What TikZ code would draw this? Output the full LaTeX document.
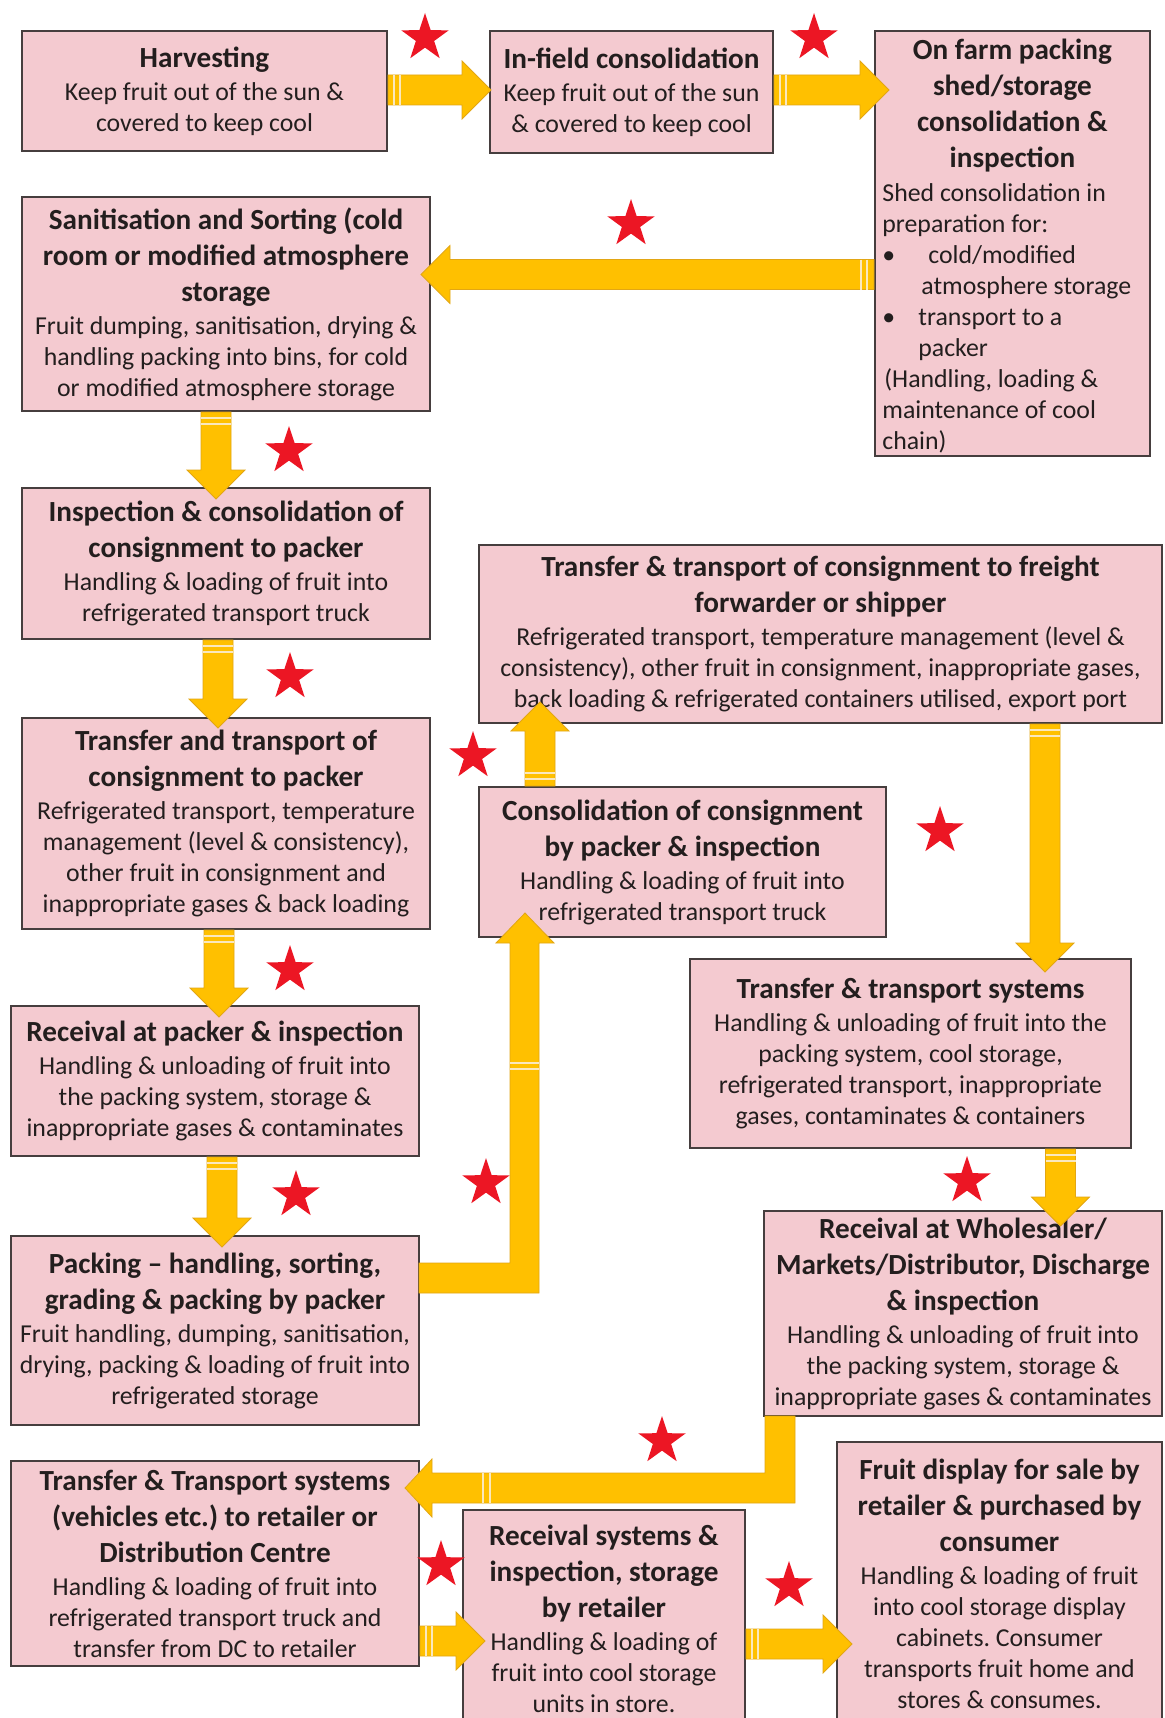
\documentclass[tikz,border=0pt]{standalone}
\usepackage{fontspec}
\setmainfont{Carlito}
\frenchspacing
\usetikzlibrary{shapes.geometric,fit,calc}
\definecolor{boxpink}{RGB}{244,202,208}
\definecolor{boxline}{RGB}{70,62,62}
\definecolor{arrowc}{RGB}{255,192,0}
\definecolor{arrowedge}{RGB}{226,166,20}
\definecolor{stripec}{RGB}{250,232,190}
\definecolor{starred}{RGB}{236,22,36}
\definecolor{txtc}{RGB}{35,30,30}
\newcommand\tl[1]{{\fontsize{14.6}{18}\selectfont\bfseries #1}}
\newcommand\arrR[2]{%
 \path[arr] let \p1=#1, \p2=#2 in
 (\x1,\y1+7.5pt) -- (\x2-14.5pt,\y1+7.5pt) -- (\x2-14.5pt,\y1+14.5pt) -- (\x2,\y1)
 -- (\x2-14.5pt,\y1-14.5pt) -- (\x2-14.5pt,\y1-7.5pt) -- (\x1,\y1-7.5pt) -- cycle;
 \draw[stripe] let \p1=#1 in (\x1+3pt,\y1+7.5pt) -- (\x1+3pt,\y1-7.5pt)
 (\x1+6pt,\y1+7.5pt) -- (\x1+6pt,\y1-7.5pt);}
\newcommand\arrL[2]{%
 \path[arr] let \p1=#1, \p2=#2 in
 (\x1,\y1+7.5pt) -- (\x2+14.5pt,\y1+7.5pt) -- (\x2+14.5pt,\y1+14.5pt) -- (\x2,\y1)
 -- (\x2+14.5pt,\y1-14.5pt) -- (\x2+14.5pt,\y1-7.5pt) -- (\x1,\y1-7.5pt) -- cycle;
 \draw[stripe] let \p1=#1 in (\x1-3.5pt,\y1+7.5pt) -- (\x1-3.5pt,\y1-7.5pt)
 (\x1-6.5pt,\y1+7.5pt) -- (\x1-6.5pt,\y1-7.5pt);}
\newcommand\arrD[2]{%
 \path[arr] let \p1=#1, \p2=#2 in
 (\x1-7.5pt,\y1) -- (\x1-7.5pt,\y2+14.5pt) -- (\x1-14.5pt,\y2+14.5pt) -- (\x1,\y2)
 -- (\x1+14.5pt,\y2+14.5pt) -- (\x1+7.5pt,\y2+14.5pt) -- (\x1+7.5pt,\y1) -- cycle;
 \draw[stripe] let \p1=#1 in (\x1-7.5pt,\y1-3pt) -- (\x1+7.5pt,\y1-3pt)
 (\x1-7.5pt,\y1-6pt) -- (\x1+7.5pt,\y1-6pt);}
\newcommand\arrU[2]{%
 \path[arr] let \p1=#1, \p2=#2 in
 (\x1-7.5pt,\y1) -- (\x1-7.5pt,\y2-14.5pt) -- (\x1-14.5pt,\y2-14.5pt) -- (\x1,\y2)
 -- (\x1+14.5pt,\y2-14.5pt) -- (\x1+7.5pt,\y2-14.5pt) -- (\x1+7.5pt,\y1) -- cycle;
 \draw[stripe] let \p1=#1 in (\x1-7.5pt,\y1+3.5pt) -- (\x1+7.5pt,\y1+3.5pt)
 (\x1-7.5pt,\y1+6.5pt) -- (\x1+7.5pt,\y1+6.5pt);}
\begin{document}
\begin{tikzpicture}[x=0.5pt,y=-0.5pt,
 box/.style={draw=boxline, fill=boxpink, line width=1pt, inner sep=0pt},
 lbl/.style={inner sep=0pt, align=center, text=txtc, font=\fontsize{12.9}{15.5}\selectfont},
 plain/.style={inner sep=0pt, text=txtc, font=\fontsize{12.9}{15.5}\selectfont},
 arr/.style={fill=arrowc, draw=arrowedge, line width=0.4pt, line join=miter},
 stripe/.style={draw=stripec, line width=0.8pt},
 redstar/.style={star, star points=5, star point ratio=2.6, fill=starred, draw=none,
   minimum size=25pt, inner sep=0pt}]
\useasboundingbox (0,0) rectangle (1164,1718);
\fill[white] (0,0) rectangle (1164,1718);
% boxes
\node[box, fit={(22,31)(387,151)}, label={[lbl]center:{\tl{Harvesting}\\[1pt] Keep fruit out of the sun \&\\ covered to keep cool}}] (harv) {};
\node[box, fit={(490,31)(773,153)}, label={[lbl]center:{\tl{In-field consolidation}\\[1pt] Keep fruit out of the sun\\ \& covered to keep cool}}] (infield) {};
\node[box, fit={(875,31)(1150,456)}] (onfarm) {};
\node[plain, anchor=north west, align=left] (onfarmtxt) at (882,39) {%
 \tl{\makebox[130pt]{On farm packing}}\\[2.5pt]
 \tl{\makebox[130pt]{shed/storage}}\\[2.5pt]
 \tl{\makebox[130pt]{consolidation \&}}\\[2.5pt]
 \tl{\makebox[130pt]{inspection}}\\[1.5pt]
 Shed consolidation in\\
 preparation for:\\
 \makebox[23pt][l]{\textbullet}cold/modified\\
 \hspace*{19.5pt}atmosphere storage\\
 \makebox[18pt][l]{\textbullet}transport to a\\
 \hspace*{18pt}packer\\
 \hspace*{1pt}(Handling, loading \&\\
 maintenance of cool\\
 chain)};
\node[box, fit={(22,197)(430,411)}, label={[lbl]center:{\tl{Sanitisation and Sorting (cold}\\[2.5pt] \tl{room or modified atmosphere}\\[2.5pt] \tl{storage}\\[1pt] Fruit dumping, sanitisation, drying \&\\ handling packing into bins, for cold\\ or modified atmosphere storage}}] (sanit) {};
\node[box, fit={(22,488)(430,639)}, label={[lbl]center:{\tl{Inspection \& consolidation of}\\[2.5pt] \tl{consignment to packer}\\[1pt] Handling \& loading of fruit into\\ refrigerated transport truck}}] (insp) {};
\node[box, fit={(22,718)(430,929)}, label={[lbl]center:{\tl{Transfer and transport of}\\[2.5pt] \tl{consignment to packer}\\[1pt] Refrigerated transport, temperature\\ management (level \& consistency),\\ other fruit in consignment and\\ inappropriate gases \& back loading}}] (tt) {};
\node[box, fit={(11,1006)(419,1156)}, label={[lbl]center:{\tl{Receival at packer \& inspection}\\[1pt] Handling \& unloading of fruit into\\ the packing system, storage \&\\ inappropriate gases \& contaminates}}] (recp) {};
\node[box, fit={(11,1236)(419,1425)}, label={[lbl]center:{\tl{Packing -- handling, sorting,}\\[2.5pt] \tl{grading \& packing by packer}\\[1pt] Fruit handling, dumping, sanitisation,\\ drying, packing \& loading of fruit into\\ refrigerated storage}}] (pack) {};
\node[box, fit={(479,545)(1162,723)}, label={[lbl]center:{\tl{Transfer \& transport of consignment to freight}\\[2.5pt] \tl{forwarder or shipper}\\[1pt] Refrigerated transport, temperature management (level \&\\ consistency), other fruit in consignment, inappropriate gases,\\ back loading \& refrigerated containers utilised, export port}}] (freight) {};
\node[box, fit={(479,787)(886,937)}, label={[lbl]center:{\tl{Consolidation of consignment}\\[2.5pt] \tl{by packer \& inspection}\\[1pt] Handling \& loading of fruit into\\ refrigerated transport truck}}] (cons) {};
\node[box, fit={(690,959)(1131,1148)}, label={[lbl]center:{\tl{Transfer \& transport systems}\\[1pt] Handling \& unloading of fruit into the\\ packing system, cool storage,\\ refrigerated transport, inappropriate\\ gases, contaminates \& containers}}] (tsys) {};
\node[box, fit={(764,1211)(1162,1416)}, label={[lbl]center:{\tl{Receival at Wholesaler/}\\[2.5pt] \tl{Markets/Distributor, Discharge}\\[2.5pt] \tl{\& inspection}\\[1pt] Handling \& unloading of fruit into\\ the packing system, storage \&\\ inappropriate gases \& contaminates}}] (whole) {};
\node[box, fit={(11,1461)(419,1666)}, label={[lbl]center:{\tl{Transfer \& Transport systems}\\[2.5pt] \tl{(vehicles etc.) to retailer or}\\[2.5pt] \tl{Distribution Centre}\\[1pt] Handling \& loading of fruit into\\ refrigerated transport truck and\\ transfer from DC to retailer}}] (tret) {};
\node[box, fit={(463,1510)(745,1728)}, label={[lbl]center:{\tl{Receival systems \&}\\[2.5pt] \tl{inspection, storage}\\[2.5pt] \tl{by retailer}\\[1pt] Handling \& loading of\\ fruit into cool storage\\ units in store.}}] (recs) {};
\node[box, fit={(837,1442)(1162,1725)}, label={[lbl]center:{\tl{Fruit display for sale by}\\[2.5pt] \tl{retailer \& purchased by}\\[2.5pt] \tl{consumer}\\[1pt] Handling \& loading of fruit\\ into cool storage display\\ cabinets. Consumer\\ transports fruit home and\\ stores \& consumes.}}] (fruit) {};
% straight arrows
\arrR{([yshift=0.5pt]harv.east)}{([xshift=1pt]infield.west)}
\arrR{([yshift=1pt]infield.east)}{([xshift=7.5pt]onfarm.west)}
\arrL{([yshift=-15.5pt]onfarm.west)}{([xshift=-5pt]sanit.east)}
\arrD{([xshift=-5pt]sanit.south)}{([yshift=-6pt]insp.north)}
\arrD{([xshift=-4pt]insp.south)}{([yshift=-5.5pt]tt.north)}
\arrD{([xshift=-3.5pt]tt.south)}{([yshift=-6pt]recp.north)}
\arrD{([xshift=3.5pt]recp.south)}{([yshift=-6pt]pack.north)}
\arrU{([xshift=-71.25pt]cons.north)}{([yshift=11pt]freight.south)}
\arrD{([xshift=112.25pt]freight.south)}{([yshift=-7pt]tsys.north)}
\arrD{([xshift=75pt]tsys.south)}{([yshift=-8pt]whole.north)}
\arrR{([yshift=-38.75pt]tret.east)}{([xshift=11.5pt]recs.west)}
\arrR{([yshift=-12.5pt]recs.east)}{([xshift=8pt]fruit.west)}
% elbow arrows
\coordinate (e1tip) at (525,913);
\coordinate (e2tip) at (405,1488);
\path[arr] (419,1263) -- (510,1263) -- (510,943) -- (496,943) -- (e1tip) -- (554,943)
 -- (539,943) -- (539,1293) -- (419,1293) -- cycle;
\draw[stripe] (510,1063) -- (539,1063) (510,1069) -- (539,1069);
\path[arr] (795,1416) -- (795,1503) -- (432,1503) -- (432,1517) -- (e2tip) -- (432,1459)
 -- (432,1473) -- (765,1473) -- (765,1416) -- cycle;
\draw[stripe] (483,1473) -- (483,1503) (490,1473) -- (490,1503);
% stars
\node[redstar] (s1) at (425,38) {};
\node[redstar] (s2) at (814,38) {};
\node[redstar] (s3) at (631,224) {};
\node[redstar] (s4) at (289,451) {};
\node[redstar] (s5) at (290,677) {};
\node[redstar] (s6) at (290,970) {};
\node[redstar] (s7) at (296,1195) {};
\node[redstar] (s8) at (473,756) {};
\node[redstar] (s9) at (940,831) {};
\node[redstar] (s10) at (486,1183) {};
\node[redstar] (s11) at (967,1181) {};
\node[redstar] (s12) at (662,1441) {};
\node[redstar] (s13) at (441,1565) {};
\node[redstar] (s14) at (789,1586) {};
\end{tikzpicture}
\end{document}
